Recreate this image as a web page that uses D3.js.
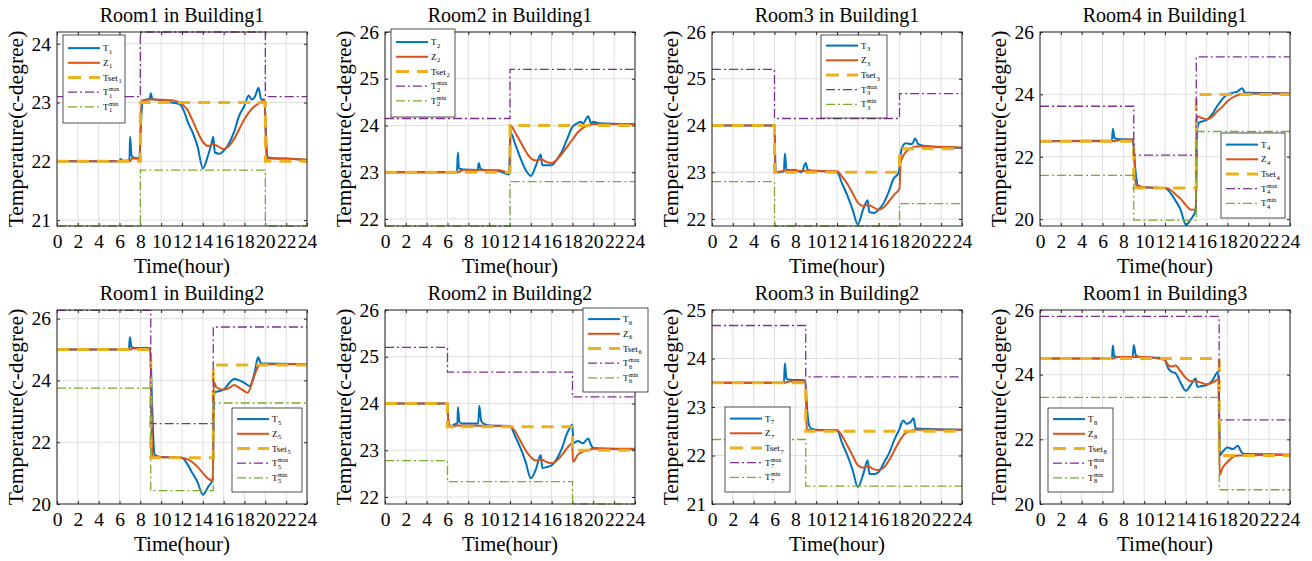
<!DOCTYPE html>
<html>
<head>
<meta charset="utf-8">
<script src="https://cdn.jsdelivr.net/npm/d3@7"></script>
<style>
  body { margin: 0; background: #fff; }
  text { font-family: "Liberation Serif", "DejaVu Serif", serif; fill: #000; }
</style>
</head>
<body>
<svg id="chart" width="1312" height="561"></svg>
<script>
// ---- data ----
const titles = ['Room1 in Building1', 'Room2 in Building1', 'Room3 in Building1', 'Room4 in Building1',
  'Room1 in Building2', 'Room2 in Building2', 'Room3 in Building2', 'Room1 in Building3']
const hourTicks = [0, 2, 4, 6, 8, 10, 12, 14, 16, 18, 20, 22, 24]
const yDomains = [[20.9, 24.2], [21.85, 26], [21.85, 26], [19.78, 26], [20, 26.28], [21.85, 26], [21, 25], [20, 26]]
const yTicks = [[21, 22, 23, 24], [22, 23, 24, 25, 26], [22, 23, 24, 25, 26], [20, 22, 24, 26],
  [20, 22, 24, 26], [22, 23, 24, 25, 26], [21, 22, 23, 24, 25], [20, 22, 24, 26]]

// step limits: change hours, then values in each interval
const stepHours = [[0, 8, 20, 24], [0, 12, 24], [0, 6, 18, 24], [0, 9, 15, 24],
  [0, 9, 15, 24], [0, 6, 18, 24], [0, 9, 24], [0, 17.2, 24]]
const tsetVals = [[22, 23, 22], [23, 24], [24, 23, 23.5], [22.5, 21, 24], [25, 21.5, 24.5], [24, 23.5, 23], [23.5, 22.5], [24.5, 21.5]]
const tmaxVals = [[23.1, 24.2, 23.1], [24.15, 25.2], [25.2, 24.15, 24.68], [23.62, 22.05, 25.2],
  [26.27, 22.6, 25.73], [25.2, 24.67, 24.14], [24.68, 23.62], [25.8, 22.6]]
const tminVals = [[20.9, 21.85, 20.9], [21.85, 22.8], [22.8, 21.85, 22.33], [21.4, 19.97, 22.81],
  [23.75, 20.43, 23.27], [22.78, 22.33, 21.85], [22.33, 21.37], [23.3, 20.44]]

// measured room temperature T and model state Z, [hour, degree]
const T1 = [[0,22],[6,22],[6.1,22.04],[6.3,22.01],[6.95,22.02],[7.02,22.42],[7.15,22.1],[7.4,22.06],[7.9,22.05],[8.05,22.6],[8.2,23.0],[8.5,23.05],[8.9,23.06],[9.0,23.16],[9.15,23.06],[10,23.04],[11,23.0],[11.8,22.97],[12.2,22.85],[12.6,22.65],[13,22.5],[13.5,22.25],[14,21.88],[14.5,22.1],[14.9,22.35],[15,22.42],[15.15,22.15],[15.6,22.13],[16,22.18],[16.5,22.3],[17,22.5],[17.5,22.78],[18,22.95],[18.4,23.12],[18.7,23.05],[19,23.1],[19.35,23.25],[19.6,23.05],[19.9,23.05],[20.05,22.5],[20.2,22.07],[21,22.05],[22,22.05],[24,22.02]]
const Z1 = [[0,22],[7,22],[7.2,22.05],[7.95,22.05],[8.1,23.03],[9,23.05],[11,23.04],[12,22.97],[12.5,22.88],[13,22.7],[13.5,22.5],[14,22.33],[14.5,22.26],[15,22.29],[15.5,22.25],[16,22.21],[16.5,22.26],[17,22.38],[17.5,22.55],[18,22.72],[18.5,22.85],[19,22.94],[19.5,23.0],[19.95,23.04],[20.1,22.05],[21,22.05],[24,22.03]]
const T2 = [[0,23],[6.9,23],[7.0,23.42],[7.1,23.08],[7.5,23.06],[8.9,23.05],[9.0,23.2],[9.15,23.08],[9.5,23.05],[11,23.02],[11.9,22.95],[12.05,23.85],[12.5,23.6],[13,23.3],[13.5,23.05],[14,22.92],[14.5,23.15],[14.95,23.38],[15.1,23.15],[15.6,23.15],[16,23.15],[16.5,23.27],[17,23.45],[17.5,23.72],[18,23.97],[18.5,24.05],[18.8,24.08],[19,24.04],[19.5,24.2],[19.8,24.04],[20,24.08],[20.5,24.05],[24,24.03]]
const Z2 = [[0,23],[7,23],[7.5,23.05],[11,23.04],[12,22.98],[12.05,24.0],[12.5,23.85],[13,23.65],[13.5,23.45],[14,23.3],[14.5,23.25],[15,23.28],[15.5,23.22],[16,23.2],[16.5,23.27],[17,23.4],[17.5,23.55],[18,23.7],[18.5,23.85],[19,23.95],[19.5,24.0],[20,24.03],[24,24.03]]
const T3 = [[0,24],[6,24],[6.1,23.0],[6.5,23.0],[6.9,23.02],[7.0,23.4],[7.15,23.05],[8,23.05],[8.6,23.0],[9.0,23.2],[9.2,23.05],[10,23.03],[12,23.0],[12.5,22.75],[13,22.5],[13.5,22.2],[14,21.88],[14.5,22.2],[14.95,22.4],[15.1,22.15],[15.6,22.13],[16,22.2],[16.5,22.35],[17,22.6],[17.4,22.85],[17.9,22.98],[18.2,23.5],[18.6,23.62],[19.2,23.6],[19.5,23.72],[19.8,23.6],[20.2,23.57],[21,23.55],[24,23.52]]
const Z3 = [[0,24],[6,24],[6.1,23.0],[7,23.03],[12,23.02],[12.5,22.9],[13,22.75],[13.5,22.55],[14,22.35],[14.5,22.28],[15,22.3],[15.5,22.25],[16,22.2],[16.5,22.25],[17,22.38],[17.5,22.52],[18,22.65],[18.1,23.2],[18.5,23.4],[19,23.5],[19.5,23.55],[20,23.55],[24,23.53]]
const T4 = [[0,22.5],[6.9,22.52],[7.0,22.9],[7.15,22.6],[7.5,22.57],[8.9,22.55],[9.15,21.6],[9.4,21.08],[10,21.02],[12,21.0],[12.5,20.85],[13,20.6],[13.5,20.3],[14,19.82],[14.5,20.0],[14.95,20.3],[15.1,22.9],[15.3,23.1],[16,23.18],[16.5,23.35],[17,23.62],[17.5,23.85],[18,24.0],[18.5,24.05],[19,24.1],[19.4,24.2],[19.7,24.05],[20,24.05],[24,24.03]]
const Z4 = [[0,22.5],[7,22.5],[7.5,22.53],[8.95,22.55],[9.2,21.1],[9.5,21.05],[10,21.02],[12,21.0],[12.5,20.95],[13,20.8],[13.5,20.65],[14,20.45],[14.5,20.3],[14.95,20.32],[15.08,23.3],[15.5,23.25],[16,23.2],[16.5,23.28],[17,23.45],[17.5,23.6],[18,23.78],[18.5,23.9],[19,23.98],[19.5,24.02],[24,24.03]]
const T5 = [[0,25],[6.9,25.0],[7.0,25.4],[7.15,25.08],[7.5,25.05],[8.95,25.05],[9.15,23.0],[9.35,21.62],[9.6,21.55],[10,21.52],[12,21.5],[12.5,21.3],[13,21.0],[13.5,20.7],[14,20.3],[14.5,20.55],[14.95,20.8],[15.1,23.6],[15.5,23.65],[16,23.7],[16.5,23.9],[17,24.05],[17.5,24.0],[18,23.92],[18.5,23.82],[19,24.3],[19.3,24.75],[19.6,24.55],[20,24.55],[24,24.52]]
const Z5 = [[0,25],[7,25.0],[7.3,25.03],[8.95,25.03],[9.15,21.55],[9.5,21.52],[12,21.5],[12.5,21.45],[13,21.35],[13.5,21.2],[14,21.0],[14.5,20.82],[14.95,20.75],[15.05,23.95],[15.3,23.78],[16,23.7],[16.5,23.75],[17,23.85],[17.5,23.76],[18,23.65],[18.3,23.6],[18.8,24.0],[19.2,24.38],[19.6,24.52],[24,24.52]]
const T6 = [[0,24],[5.95,24],[6.1,23.6],[6.3,23.5],[6.6,23.55],[6.95,23.57],[7.0,23.92],[7.15,23.6],[7.5,23.57],[8.95,23.57],[9.05,23.95],[9.25,23.62],[9.6,23.55],[10,23.53],[12,23.52],[12.5,23.3],[13,23.05],[13.5,22.75],[14,22.4],[14.5,22.6],[14.95,22.9],[15.1,22.62],[15.5,22.64],[16,22.68],[16.5,22.82],[17,23.05],[17.4,23.32],[17.8,23.5],[17.97,23.55],[18.1,23.15],[18.5,23.2],[19,23.15],[19.5,23.25],[19.8,23.1],[20,23.05],[24,23.02]]
const Z6 = [[0,24],[5.95,24],[6.1,23.55],[6.5,23.52],[7,23.53],[12,23.52],[12.5,23.4],[13,23.2],[13.5,23.0],[14,22.85],[14.5,22.78],[15,22.8],[15.5,22.75],[16,22.72],[16.5,22.78],[17,22.9],[17.5,23.05],[17.97,23.15],[18.05,22.75],[18.5,22.9],[19,22.97],[19.5,23.0],[20,23.03],[24,23.03]]
const T7 = [[0,23.5],[6.9,23.5],[7.0,23.9],[7.15,23.58],[7.5,23.56],[8.95,23.55],[9.15,22.9],[9.35,22.6],[9.6,22.55],[10,22.53],[12,22.52],[12.5,22.25],[13,22.0],[13.5,21.7],[14,21.35],[14.5,21.6],[14.95,21.9],[15.1,21.62],[15.6,21.62],[16,21.66],[16.5,21.85],[17,22.05],[17.5,22.32],[18,22.55],[18.35,22.72],[18.7,22.65],[19.1,22.7],[19.35,22.77],[19.55,22.56],[20,22.55],[24,22.53]]
const Z7 = [[0,23.5],[7,23.5],[7.5,23.53],[8.97,23.53],[9.1,22.55],[9.5,22.52],[12,22.52],[12.5,22.4],[13,22.2],[13.5,22.0],[14,21.8],[14.5,21.75],[15,21.78],[15.5,21.72],[16,21.7],[16.5,21.75],[17,21.9],[17.5,22.1],[18,22.3],[18.5,22.45],[19,22.5],[19.5,22.53],[24,22.53]]
const T8 = [[0,24.5],[6.9,24.5],[7.0,24.9],[7.12,24.57],[7.5,24.55],[8.9,24.55],[9.0,24.92],[9.2,24.6],[9.5,24.55],[10,24.53],[11.5,24.52],[12,24.45],[12.3,24.2],[12.7,24.08],[13,24.05],[13.5,23.75],[14,23.5],[14.5,23.7],[14.95,23.88],[15.1,23.62],[15.5,23.65],[16,23.68],[16.5,23.8],[17.1,24.08],[17.3,21.5],[17.5,21.6],[18,21.75],[18.5,21.7],[19,21.8],[19.3,21.62],[19.6,21.55],[20,21.55],[24,21.52]]
const Z8 = [[0,24.5],[7,24.5],[7.5,24.55],[10,24.55],[11,24.52],[12,24.45],[12.3,24.3],[12.6,24.25],[13,24.28],[13.5,24.1],[14,23.9],[14.5,23.8],[15,23.8],[15.5,23.75],[16,23.7],[16.5,23.75],[17.15,23.85],[17.25,20.9],[17.5,21.1],[18,21.3],[18.5,21.45],[19,21.5],[24,21.52]]
const Ts = [T1, T2, T3, T4, T5, T6, T7, T8]
const Zs = [Z1, Z2, Z3, Z4, Z5, Z6, Z7, Z8]

// ---- layout ----
const colLeft = [57, 385, 712, 1040]
const rowTop = [32, 310]
const W = 250, H = 194
// legend boxes [x, y, w, h] in page pixels
const legendBoxes = [[63, 35, 62, 88], [391, 29, 64, 88], [821, 35, 66, 83], [1221, 133, 64, 85],
  [232, 408, 70, 84], [583, 308, 65, 84], [725, 407, 65, 85], [1048, 408, 65, 84]]

const colors = { T: '#0072BD', Z: '#D95319', set: '#EDB120', max: '#7E2F8E', min: '#77AC30' }
const dashDot = '9 3 2 3'
const serif = '"Liberation Serif", "DejaVu Serif", serif'

const svg = d3.select('#chart')

titles.forEach(function(title, i) {
  const left = colLeft[i % 4]
  const top = rowTop[Math.floor(i / 4)]
  const x = d3.scaleLinear().domain([0, 24]).range([0, W])
  const y = d3.scaleLinear().domain(yDomains[i]).range([H, 0])

  const g = svg.append('g').attr('transform', 'translate(' + left + ',' + top + ')')

  g.append('clipPath').attr('id', 'clip' + i)
    .append('rect').attr('x', 0).attr('y', -1).attr('width', W).attr('height', H + 2)

  // grid
  g.append('g').selectAll('line').data(hourTicks).enter().append('line')
    .attr('x1', d => x(d)).attr('x2', d => x(d)).attr('y1', 0).attr('y2', H)
    .attr('stroke', '#dfdfdf').attr('stroke-width', 1)
  g.append('g').selectAll('line').data(yTicks[i]).enter().append('line')
    .attr('x1', 0).attr('x2', W).attr('y1', d => y(d)).attr('y2', d => y(d))
    .attr('stroke', '#dfdfdf').attr('stroke-width', 1)

  // axes
  const xAxis = g.append('g').attr('transform', 'translate(0,' + H + ')')
    .call(d3.axisBottom(x).tickValues(hourTicks).tickFormat(d3.format('d'))
      .tickSizeInner(-3).tickSizeOuter(0).tickPadding(8))
  const yAxis = g.append('g')
    .call(d3.axisLeft(y).tickValues(yTicks[i]).tickFormat(d3.format('d'))
      .tickSizeInner(-3).tickSizeOuter(0).tickPadding(6))
  g.append('g').call(d3.axisTop(x).tickValues(hourTicks).tickSizeInner(-3).tickSizeOuter(0).tickFormat(''))
  g.append('g').attr('transform', 'translate(' + W + ',0)')
    .call(d3.axisRight(y).tickValues(yTicks[i]).tickSizeInner(-3).tickSizeOuter(0).tickFormat(''))
  g.selectAll('.domain').remove()
  g.selectAll('.tick line').attr('stroke', '#262626')
  xAxis.attr('font-family', serif)
  yAxis.attr('font-family', serif)
  xAxis.selectAll('text').attr('font-size', '19.5px').attr('fill', '#000')
  yAxis.selectAll('text').attr('font-size', '19.5px').attr('fill', '#000')

  // lines
  const plot = g.append('g').attr('clip-path', 'url(#clip' + i + ')')
  const curve = d3.line().x(d => x(d[0])).y(d => y(d[1])).curve(d3.curveMonotoneX)
  const step = d3.line().x(d => x(d[0])).y(d => y(d[1])).curve(d3.curveStepAfter)
  const stepData = function(vals) {
    const pts = vals.map((v, k) => [stepHours[i][k], v])
    pts.push([24, vals[vals.length - 1]])
    return pts
  }

  plot.append('path').datum(Ts[i]).attr('d', curve)
    .attr('fill', 'none').attr('stroke', colors.T).attr('stroke-width', 2)
  plot.append('path').datum(Zs[i]).attr('d', curve)
    .attr('fill', 'none').attr('stroke', colors.Z).attr('stroke-width', 2)
  plot.append('path').datum(stepData(tsetVals[i])).attr('d', step)
    .attr('fill', 'none').attr('stroke', colors.set).attr('stroke-width', 3).attr('stroke-dasharray', '12 8')
  plot.append('path').datum(stepData(tmaxVals[i])).attr('d', step)
    .attr('fill', 'none').attr('stroke', colors.max).attr('stroke-width', 1.3).attr('stroke-dasharray', dashDot)
  plot.append('path').datum(stepData(tminVals[i])).attr('d', step)
    .attr('fill', 'none').attr('stroke', colors.min).attr('stroke-width', 1.3).attr('stroke-dasharray', dashDot)

  // box
  g.append('rect').attr('width', W).attr('height', H)
    .attr('fill', 'none').attr('stroke', '#262626').attr('stroke-width', 1)

  // labels
  g.append('text').attr('x', W / 2).attr('y', -10).attr('text-anchor', 'middle')
    .attr('font-size', '20px').text(title)
  g.append('text').attr('x', W / 2).attr('y', H + 47).attr('text-anchor', 'middle')
    .attr('font-size', '21px').text('Time(hour)')
  g.append('text').attr('transform', 'translate(-34,' + (H / 2) + ') rotate(-90)')
    .attr('text-anchor', 'middle').attr('font-size', '21.5px').text('Temperature(c-degree)')

  // legend
  const lb = legendBoxes[i]
  const lg = svg.append('g').attr('transform', 'translate(' + lb[0] + ',' + lb[1] + ')')
  lg.append('rect').attr('width', lb[2]).attr('height', lb[3])
    .attr('fill', '#fff').attr('stroke', '#262626').attr('stroke-width', 0.8)
  const rowGap = 14.7
  const first = lb[3] / 2 - 2 * rowGap - 1.5
  const idx = String(i + 1)
  const entries = [
    { color: colors.T, width: 2, dash: null, main: 'T', sup: null },
    { color: colors.Z, width: 2, dash: null, main: 'Z', sup: null },
    { color: colors.set, width: 3, dash: '13 8', main: 'Tset', sup: null },
    { color: colors.max, width: 1.3, dash: dashDot, main: 'T', sup: 'max' },
    { color: colors.min, width: 1.3, dash: dashDot, main: 'T', sup: 'min' }
  ]
  entries.forEach(function(e, k) {
    const ry = first + k * rowGap
    lg.append('line').attr('x1', 5).attr('x2', 37).attr('y1', ry).attr('y2', ry)
      .attr('stroke', e.color).attr('stroke-width', e.width).attr('stroke-dasharray', e.dash)
    const t = lg.append('text').attr('x', 40).attr('y', ry + 3).attr('font-size', '9px').text(e.main)
    const mw = t.node().getComputedTextLength()
    if (e.sup) {
      lg.append('text').attr('x', 40 + mw + 0.5).attr('y', ry - 1).attr('font-size', '6px').text(e.sup)
    }
    lg.append('text').attr('x', 40 + mw + 0.5).attr('y', ry + 5.5).attr('font-size', '6.5px').text(idx)
  })
})
</script>
</body>
</html>
